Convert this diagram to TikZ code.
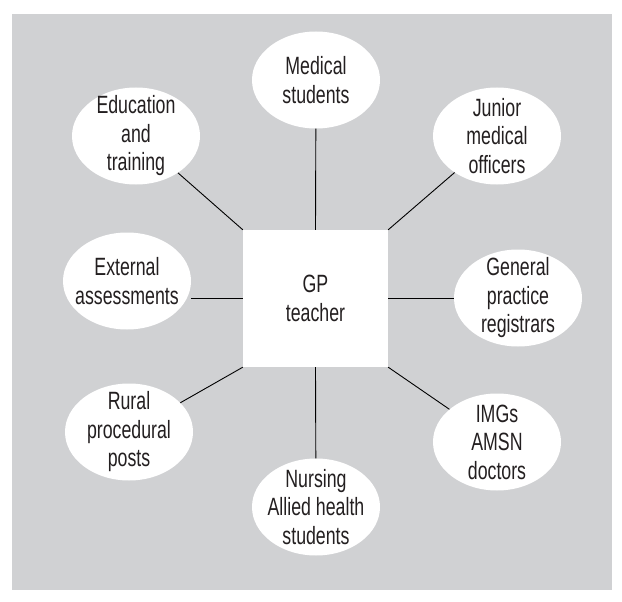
\documentclass[tikz,border=0pt]{standalone}
\usepackage{fontspec}
\setmainfont{Liberation Sans}[FakeStretch=0.71]
\usepackage{tikz}
\usetikzlibrary{shapes.geometric}
\definecolor{panelgray}{RGB}{208,209,211}
\definecolor{inkgray}{RGB}{35,31,32}

\begin{document}
\begin{tikzpicture}[x=1pt, y=-1pt,
    every node/.style={font=\fontsize{25}{28.5}\selectfont, text=inkgray, align=center},
    role/.style={ellipse, fill=white, minimum width=128pt, minimum height=97pt, inner sep=0pt},
    hub/.style={rectangle, fill=white, minimum width=145pt, minimum height=137pt},
    link/.style={draw=black, line width=0.9pt}]
  \useasboundingbox (0,0) rectangle (622,602);
  \fill[panelgray] (12,14) rectangle (612,590);

  % centre box
  \node[hub] (gp) at (315.5,298.5) {GP\\teacher};

  % the roles round it, text put in as a centred label so the ellipse keeps its size
  \node[role, label={center:{Medical\\students}}]             (med) at (316,80)  {};
  \node[role, label={center:{Education\\and\\training}}]      (edu) at (136,136) {};
  \node[role, label={center:{Junior\\medical\\officers}}]     (jun) at (497,136) {};
  \node[role, label={center:{External\\assessments}}]         (ext) at (127,281) {};
  \node[role, label={center:{General\\practice\\registrars}}] (gpr) at (518,298) {};
  \node[role, label={center:{Rural\\procedural\\posts}}]      (rur) at (129,432) {};
  \node[role, label={center:{Nursing\\Allied health\\students}}] (nur) at (316,507) {};
  \node[role, label={center:{IMGs\\AMSN\\doctors}}]           (img) at (497,442) {};

  % spokes
  \draw[link] (gp.north) -- (med);
  \draw[link] (gp.north west) -- (edu);
  \draw[link] (gp.north east) -- (jun);
  \draw[link] (gp.west) -- (gp.west -| ext.east);
  \draw[link] (gp.east) -- (gp.east -| gpr.west);
  \draw[link] (gp.south west) -- (rur);
  \draw[link] (gp.south) -- (nur);
  \draw[link] (gp.south east) -- (img);
\end{tikzpicture}
\end{document}
